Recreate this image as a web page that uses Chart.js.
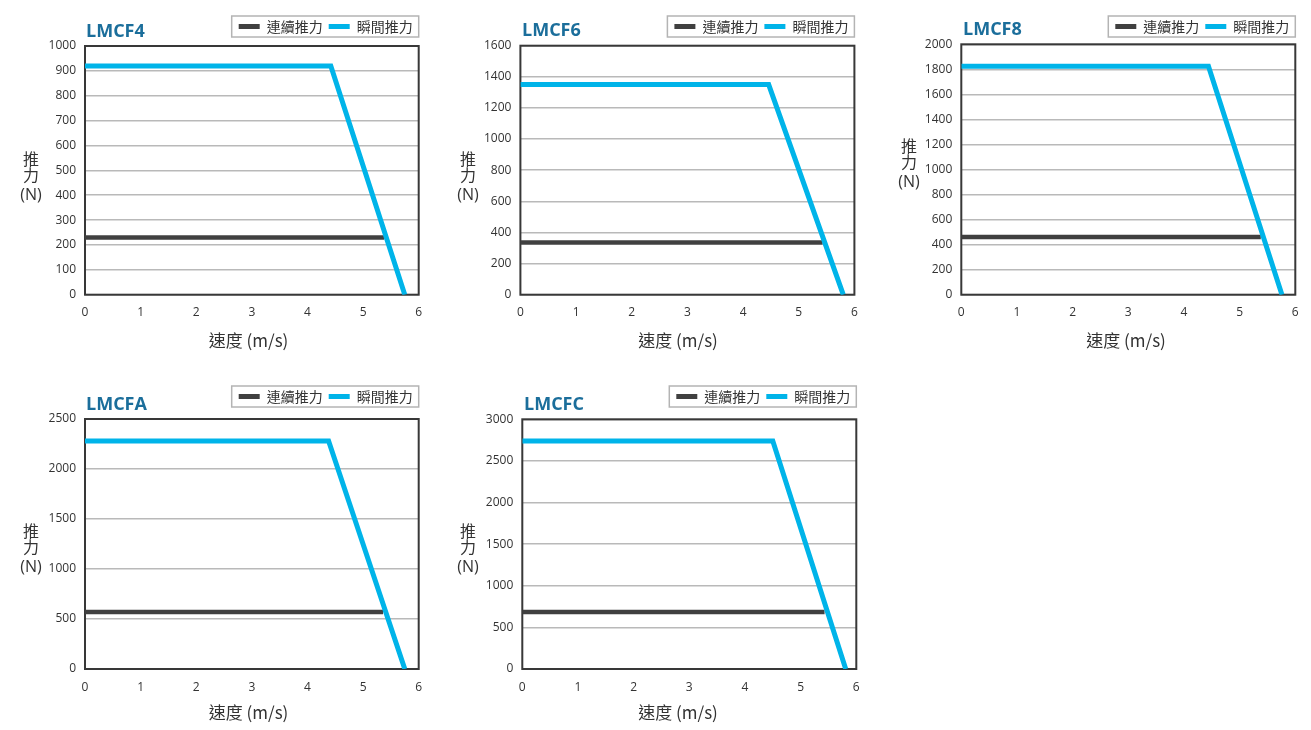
<!DOCTYPE html>
<html>
<head>
<meta charset="utf-8">
<script src="https://cdn.jsdelivr.net/npm/chart.js@4.4.1/dist/chart.umd.min.js"></script>
<style>
  html, body { margin: 0; padding: 0; background: #ffffff; }
  body { width: 1311px; height: 730px; position: relative; overflow: hidden; }
  canvas { position: absolute; }
</style>
</head>
<body>
<script>
// ---- data ----
const modelNames = ['LMCF4', 'LMCF6', 'LMCF8', 'LMCFA', 'LMCFC'];
const seriesLabels = ['連續推力', '瞬間推力'];
const speedTicks = [0, 1, 2, 3, 4, 5, 6];
const forceAxisMax = [1000, 1600, 2000, 2500, 3000];
const forceAxisStep = [100, 200, 200, 500, 500];
const continuousForce = [230, 335, 460, 570, 685];
const continuousEndSpeed = [5.38, 5.43, 5.38, 5.36, 5.43];
const peakForce = [920, 1350, 1825, 2280, 2740];
const peakKneeSpeed = [4.42, 4.46, 4.44, 4.38, 4.50];
const maxSpeed = [5.75, 5.80, 5.76, 5.75, 5.81];
const xAxisTitle = '速度 (m/s)';
const yAxisTitleLines = ['推', '力', '(N)'];

// ---- layout (page coordinates) ----
const layouts = [
  { L: 85,    T: 46,    R: 418.7,  B: 294.7, legendY: 26.5,  titleY: 37,  titleX: 86,   yTitleX: 31,  yTitleY: 159, xTitleX: 248.5, xTitleY: 340.5 },
  { L: 520.4, T: 45.7,  R: 854.4,  B: 294.7, legendY: 26.5,  titleY: 36,  titleX: 522,  yTitleX: 468, yTitleY: 159, xTitleX: 678,   xTitleY: 340.5 },
  { L: 961.3, T: 44.3,  R: 1295.3, B: 294.7, legendY: 26.5,  titleY: 35,  titleX: 963,  yTitleX: 909, yTitleY: 146, xTitleX: 1126,  xTitleY: 340.5 },
  { L: 85,    T: 419,   R: 418.7,  B: 669,   legendY: 396.5, titleY: 410, titleX: 86,   yTitleX: 31,  yTitleY: 531, xTitleX: 248.5, xTitleY: 712.5 },
  { L: 522.3, T: 419.3, R: 856.3,  B: 669,   legendY: 396.5, titleY: 410, titleX: 524,  yTitleX: 468, yTitleY: 531, xTitleX: 678,   xTitleY: 712.5 }
];

const LATIN = "'Open Sans', 'Noto Sans CJK TC', sans-serif";
const CJK = "'Noto Sans CJK TC', 'Open Sans', sans-serif";
const COLOR_CONT = '#404040';
const COLOR_PEAK = '#00b4e9';
const TEXT = '#333333';
const LEGEND_FONT = 14;
const LEGEND_PAD = 6;
const LEGEND_HEIGHT = LEGEND_FONT + LEGEND_PAD + 10;

const decor = {
  id: 'decor',
  afterLayout(chart, args, o) {
    const lg = chart.legend;
    if (!lg) return;
    const cur = lg.top + LEGEND_PAD + LEGEND_FONT / 2;
    const d = o.legendCenter - cur;
    lg.top += d; lg.bottom += d;
  },
  beforeDatasetsDraw(chart) {
    const { ctx, chartArea: a } = chart;
    ctx.save();
    ctx.strokeStyle = '#383838';
    ctx.lineWidth = 2;
    ctx.strokeRect(a.left, a.top, a.right - a.left, a.bottom - a.top);
    ctx.restore();
  },
  beforeDraw(chart, args, o) {
    const { ctx } = chart;
    const lg = chart.legend;
    if (lg && lg.legendHitBoxes && lg.legendHitBoxes.length) {
      const hb = lg.legendHitBoxes;
      const left = hb[0].left - 7;
      const right = o.legendRight;
      const cy = o.legendCenter;
      ctx.save();
      ctx.strokeStyle = '#b4b4b4';
      ctx.lineWidth = 1.5;
      ctx.strokeRect(left, cy - 10.5, right - left, 21);
      ctx.restore();
    }
  },
  afterDraw(chart, args, o) {
    const { ctx } = chart;
    ctx.save();
    // chart title
    ctx.fillStyle = '#1b6e9b';
    ctx.font = "bold 18px " + LATIN;
    ctx.textAlign = 'left';
    ctx.textBaseline = 'alphabetic';
    ctx.fillText(o.title, o.titleX, o.titleY);
    // y axis title (stacked)
    ctx.fillStyle = TEXT;
    ctx.textAlign = 'center';
    ctx.textBaseline = 'middle';
    const offs = [0, 15.5, 36];
    yAxisTitleLines.forEach((t, i) => {
      ctx.font = (i < 2 ? "16px " + CJK : "16px " + LATIN);
      ctx.fillText(t, o.yTitleX, o.yTitleY + offs[i]);
    });
    // x axis title
    ctx.font = "17px " + CJK;
    ctx.fillText(xAxisTitle, o.xTitleX, o.xTitleY);
    ctx.restore();
  }
};

function makeChart(i) {
  const g = layouts[i];
  const cLeft = Math.floor(g.L - 85);
  const cTop = Math.floor(g.T - 50);
  const cRight = Math.ceil(g.R + 16);
  const cBottom = Math.ceil(g.B + 66);
  const W = cRight - cLeft, H = cBottom - cTop;
  const yAxisW = g.L - cLeft;
  const xAxisH = cBottom - g.B;
  const padTop = (g.T - cTop) - LEGEND_HEIGHT;
  const padRight = cRight - g.R;

  const cv = document.createElement('canvas');
  cv.width = W; cv.height = H;
  cv.style.left = cLeft + 'px';
  cv.style.top = cTop + 'px';
  cv.style.width = W + 'px';
  cv.style.height = H + 'px';
  document.body.appendChild(cv);

  new Chart(cv.getContext('2d'), {
    type: 'line',
    data: {
      datasets: [
        {
          label: seriesLabels[0],
          data: [{ x: speedTicks[0], y: continuousForce[i] }, { x: continuousEndSpeed[i], y: continuousForce[i] }],
          borderColor: COLOR_CONT, backgroundColor: COLOR_CONT,
          borderWidth: 4.5, pointRadius: 0, borderCapStyle: 'butt', order: 1
        },
        {
          label: seriesLabels[1],
          data: [{ x: speedTicks[0], y: peakForce[i] }, { x: peakKneeSpeed[i], y: peakForce[i] }, { x: maxSpeed[i], y: 0 }],
          borderColor: COLOR_PEAK, backgroundColor: COLOR_PEAK,
          borderWidth: 5, pointRadius: 0, borderCapStyle: 'butt', borderJoinStyle: 'miter', order: 0
        }
      ]
    },
    options: {
      responsive: false,
      animation: false,
      devicePixelRatio: 1,
      layout: { autoPadding: false, padding: { left: 0, right: padRight, top: padTop, bottom: 0 } },
      plugins: {
        tooltip: { enabled: false },
        title: { display: false },
        legend: {
          display: true,
          position: 'top',
          align: 'end',
          labels: {
            boxWidth: 21,
            boxHeight: 5,
            padding: LEGEND_PAD,
            color: TEXT,
            font: { family: CJK, size: LEGEND_FONT },
            generateLabels(chart) {
              return chart.data.datasets.map((ds, k) => ({
                text: ds.label,
                fillStyle: ds.borderColor,
                strokeStyle: ds.borderColor,
                lineWidth: 0,
                hidden: false,
                datasetIndex: k,
                fontColor: TEXT
              }));
            }
          }
        },
        decor: {
          title: modelNames[i],
          titleX: g.titleX - cLeft, titleY: g.titleY - cTop,
          legendCenter: g.legendY - cTop,
          legendRight: g.R - cLeft,
          yTitleX: g.yTitleX - cLeft, yTitleY: g.yTitleY - cTop,
          xTitleX: g.xTitleX - cLeft, xTitleY: g.xTitleY - cTop
        }
      },
      scales: {
        x: {
          type: 'linear',
          min: speedTicks[0],
          max: speedTicks[speedTicks.length - 1],
          afterFit(s) { s.height = xAxisH; },
          grid: { display: false, drawTicks: false },
          border: { display: false },
          ticks: { stepSize: 1, padding: 11, color: TEXT, font: { family: LATIN, size: 12 }, maxRotation: 0,
                   callback: v => String(v) }
        },
        y: {
          type: 'linear',
          min: 0,
          max: forceAxisMax[i],
          afterFit(s) { s.width = yAxisW; },
          grid: { color: '#b9b9b9', lineWidth: 1.5, drawTicks: false },
          border: { display: false },
          ticks: { stepSize: forceAxisStep[i], padding: 9, color: TEXT, font: { family: LATIN, size: 12 },
                   callback: v => String(v) }
        }
      }
    },
    plugins: [decor]
  });
}

function build() { for (let i = 0; i < modelNames.length; i++) makeChart(i); }
const fontLoads = [
  document.fonts.load("12px 'Open Sans'"),
  document.fonts.load("bold 18px 'Open Sans'"),
  document.fonts.load("14px 'Noto Sans CJK TC'", '連續推力瞬間速度')
];
Promise.all(fontLoads).then(build, build);
</script>
</body>
</html>
